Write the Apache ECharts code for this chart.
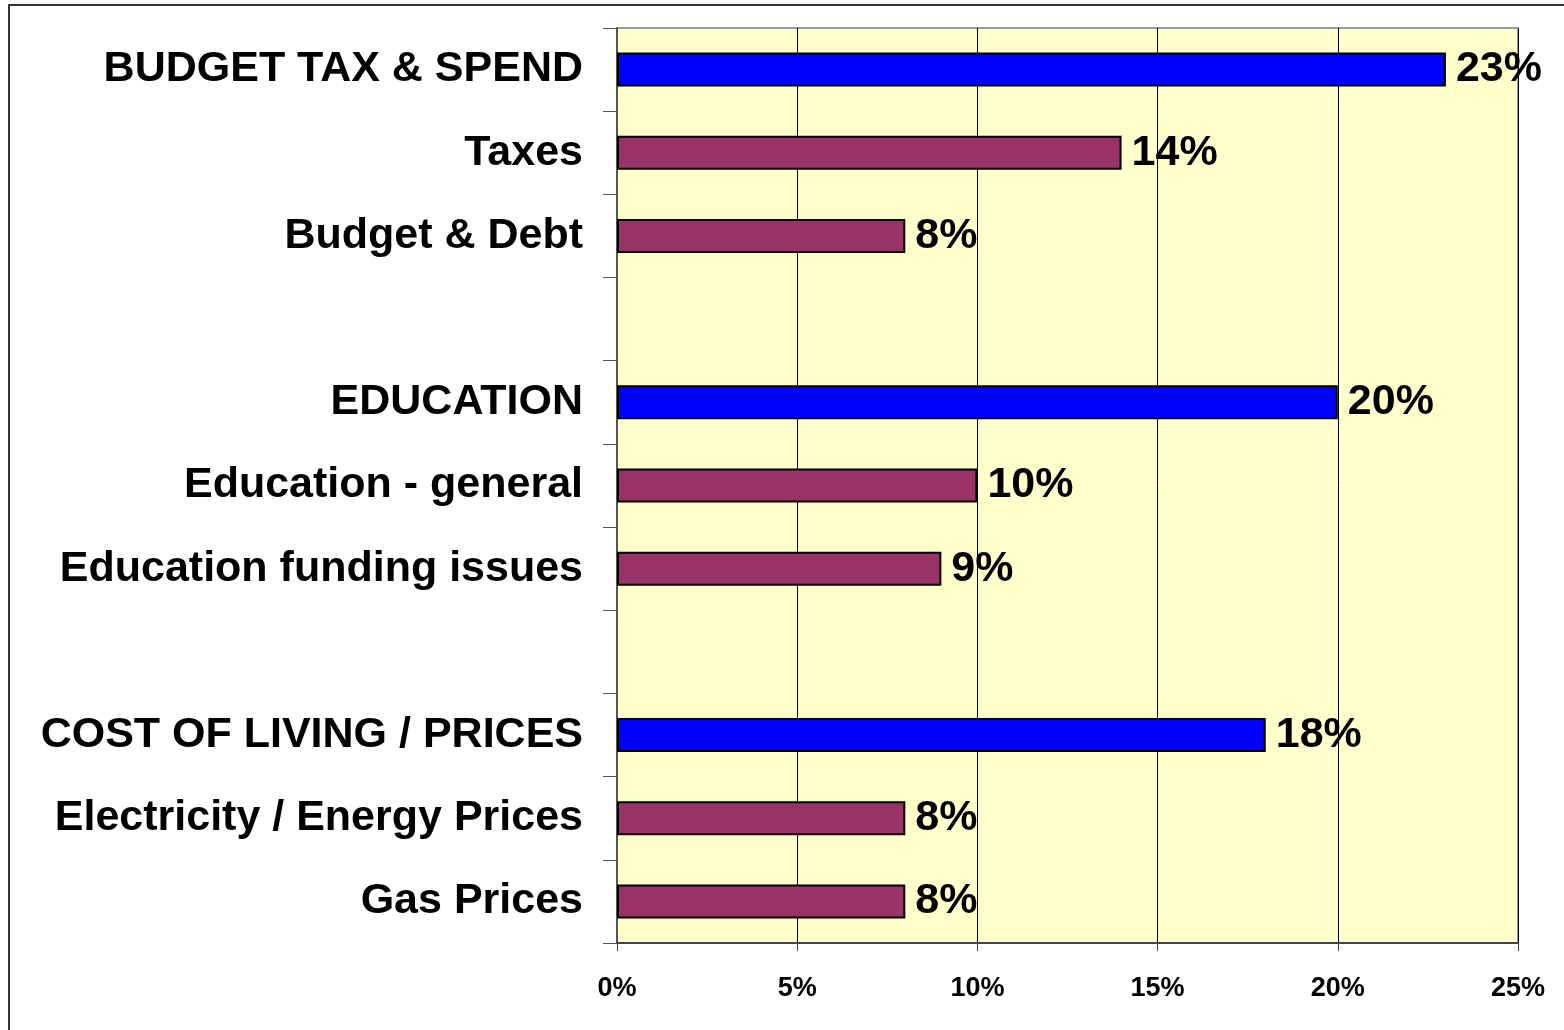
<!DOCTYPE html>
<html style="height: 100%">
<head>
  <meta charset="utf-8">
  <title>Issues</title>
  <script src="https://cdn.jsdelivr.net/npm/echarts@6/dist/echarts.min.js"></script>
</head>
<body style="margin:0;height:100%;background:#fff">
  <div id="main" style="width:1564px;height:1030px"></div>
  <script>
    var categories = [
      'BUDGET TAX & SPEND', 'Taxes', 'Budget & Debt', ' ',
      'EDUCATION', 'Education - general', 'Education funding issues', '  ',
      'COST OF LIVING / PRICES', 'Electricity / Energy Prices', 'Gas Prices'
    ];
    var values = [23, 14, 8, null, 20, 10, 9, null, 18, 8, 8];
    var headers = [true, false, false, false, true, false, false, false, true, false, false];
    var xTicks = [0, 5, 10, 15, 20, 25];

    var font = '"Liberation Sans", Arial, sans-serif';
    var chart = echarts.init(document.getElementById('main'));

    var barData = values.map(function (v, i) {
      return {
        value: v,
        itemStyle: { color: headers[i] ? '#0000FF' : '#993366' }
      };
    });

    chart.setOption({
      animation: false,
      graphic: [{
        type: 'rect',
        shape: { x: 9, y: 5, width: 1600, height: 1100 },
        style: { fill: 'none', stroke: '#333', lineWidth: 2 }
      }],
      grid: {
        left: 617, right: 46, top: 28, bottom: 87,
        show: true,
        backgroundColor: '#FFFFCC',
        borderColor: '#999',
        borderWidth: 2
      },
      xAxis: {
        type: 'value',
        min: xTicks[0],
        max: xTicks[xTicks.length - 1],
        interval: 5,
        axisLine: { show: true, lineStyle: { color: '#444', width: 2 } },
        axisTick: { show: true, length: 8, lineStyle: { color: '#444' } },
        splitLine: { show: true, lineStyle: { color: '#000', width: 1 } },
        axisLabel: {
          formatter: '{value}%',
          margin: 32,
          color: '#000',
          fontFamily: font,
          fontWeight: 'bold',
          fontSize: 27
        }
      },
      yAxis: {
        type: 'category',
        inverse: true,
        data: categories,
        axisLine: { show: true, lineStyle: { color: '#555', width: 2 } },
        axisTick: { show: true, length: 14, lineStyle: { color: '#555' } },
        axisLabel: {
          margin: 34,
          padding: [4, 0, 0, 0],
          color: '#000',
          fontFamily: font,
          fontWeight: 'bold',
          fontSize: 43
        }
      },
      series: [{
        type: 'bar',
        data: barData,
        barWidth: 34,
        itemStyle: { borderColor: '#000', borderWidth: 2 },
        label: {
          show: true,
          position: 'right',
          distance: 10,
          padding: [4, 0, 0, 0],
          formatter: '{c}%',
          color: '#000',
          fontFamily: font,
          fontWeight: 'bold',
          fontSize: 43
        }
      }]
    });
  </script>
</body>
</html>
